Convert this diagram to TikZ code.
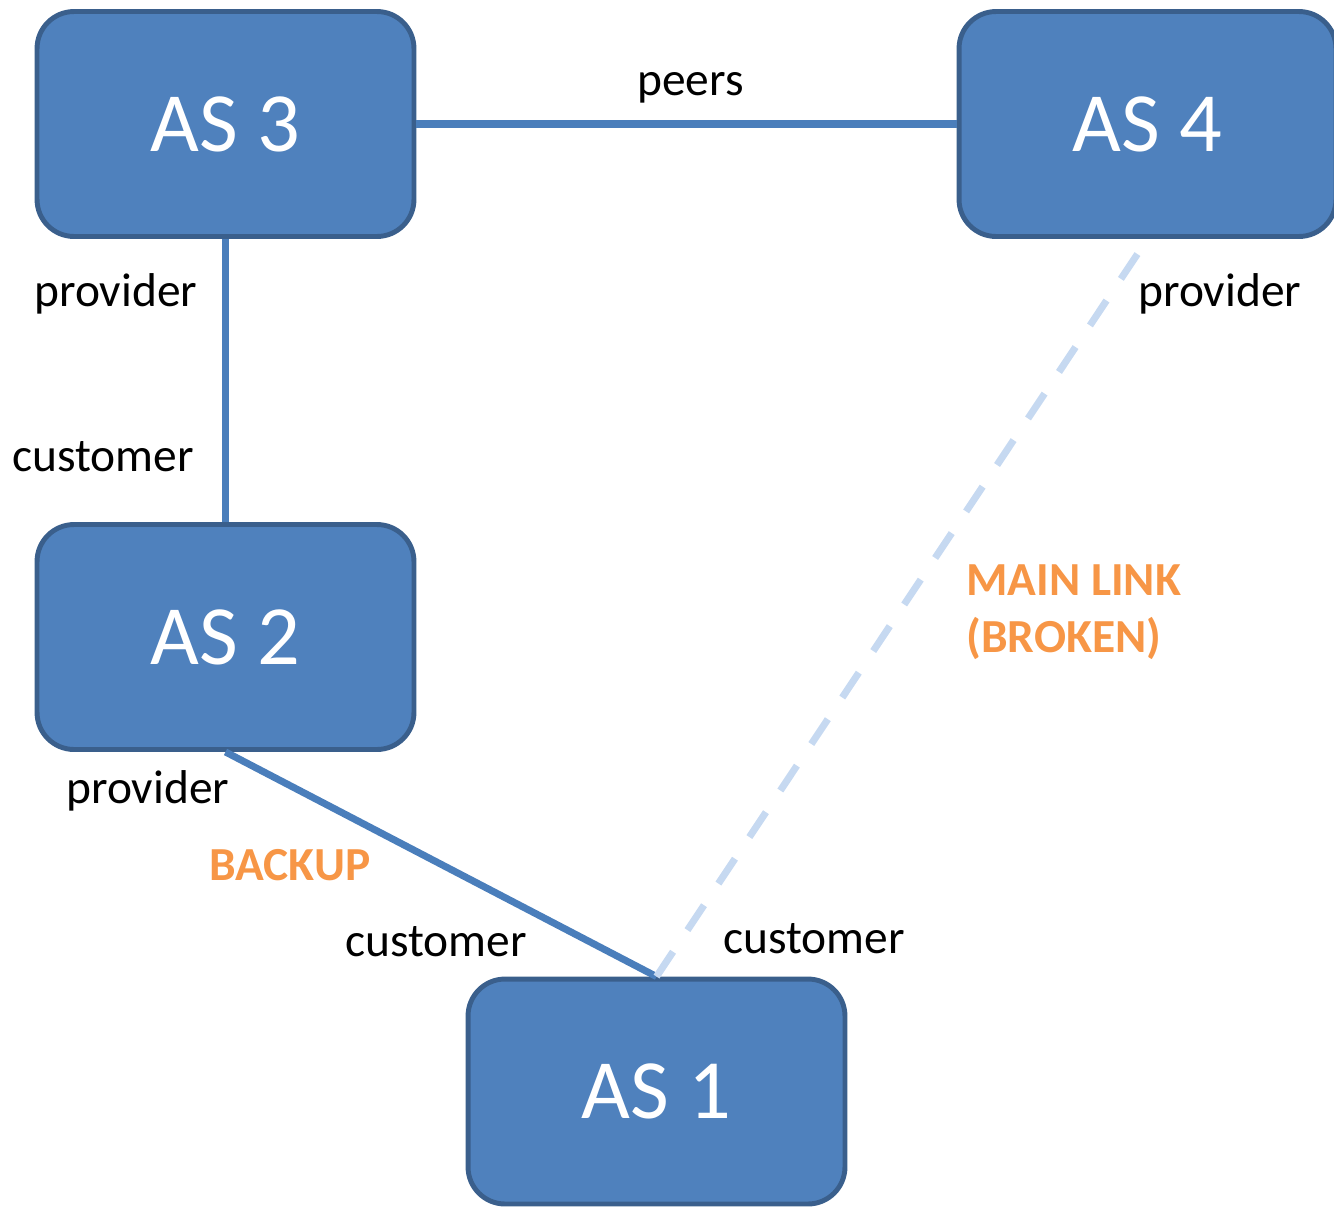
\documentclass[tikz,border=0pt]{standalone}
\usepackage{fontspec}
\setmainfont{Carlito}
\definecolor{asfill}{HTML}{4F81BD}
\definecolor{asborder}{HTML}{3A5F8C}
\definecolor{linkblue}{HTML}{4A7EBB}
\definecolor{linklight}{HTML}{C6D9F1}
\definecolor{tagorange}{HTML}{F79646}
\tikzset{
  asbox/.style={draw=asborder, fill=asfill, line width=2.8pt,
    rounded corners=0.74cm, minimum width=7.54cm, minimum height=4.5cm,
    inner sep=0pt, text=white, font=\fontsize{48}{56}\selectfont},
  link/.style={draw=linkblue, line width=4pt},
  brokenlink/.style={draw=linklight, line width=4pt,
    dash pattern=on 17pt off 14.8pt},
  role/.style={anchor=base west, inner sep=0pt, font=\fontsize{27}{32}\selectfont},
  tag/.style={anchor=base west, inner sep=0pt, text=tagorange,
    font=\fontsize{27}{32}\selectfont\bfseries},
}
\begin{document}
\begin{tikzpicture}[x=0.02cm, y=-0.02cm]
\useasboundingbox (0,0) rectangle (1334,1207);

% autonomous systems
\node[asbox] (as3) at (225.5,124) {AS 3};
\node[asbox] (as4) at (1147.5,124) {AS 4};
\node[asbox] (as2) at (225.5,637) {AS 2};
\node[asbox] (as1) at (656.5,1091.5) {AS 1};

% links between them
\draw[link] (as3.east) -- (as4.west);
\draw[link] (as3.south) -- (as2.north);
\draw[link] (as2.south) -- (as1.north);
\draw[brokenlink] (as1.north) -- (as4.south);

% relationship labels
\node[role] (peers) at (637,95) {peers};
\node[role] (p3) at (34,306) {provider};
\node[role] (p4) at (1138,306) {provider};
\node[role] (c2) at (12,471) {customer};
\node[role] (p2) at (66,803) {provider};
\node[role] (c1a) at (345,956) {customer};
\node[role] (c1b) at (723,953) {customer};

% link status tags
\node[tag] (backup) at (209,880) {BACKUP};
\node[tag] (mainlink) at (966,595) {MAIN LINK};
\node[tag] (broken) at (966,652) {(BROKEN)};
\end{tikzpicture}
\end{document}
